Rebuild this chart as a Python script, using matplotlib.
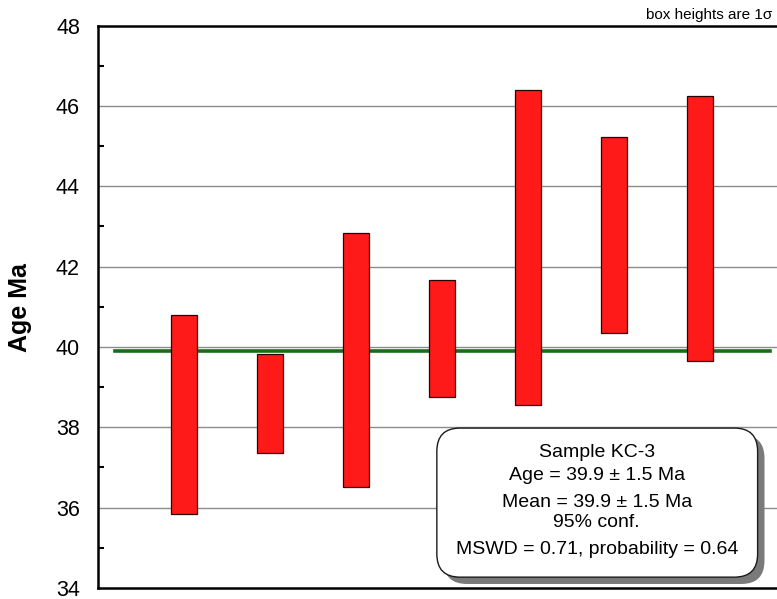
import matplotlib.pyplot as plt
from matplotlib.patches import FancyBboxPatch
from matplotlib.ticker import MultipleLocator

plt.rcParams['font.family'] = ['Liberation Sans', 'DejaVu Sans']

# --- weighted-mean data (1 sigma boxes) ---
positions = [1, 2, 3, 4, 5, 6, 7]
box_top = [40.80, 39.82, 42.83, 41.66, 46.39, 45.22, 46.24]
box_bottom = [35.84, 37.36, 36.51, 38.75, 38.55, 40.34, 39.65]
mean_age = 39.9
y_ticks = [34, 36, 38, 40, 42, 44, 46, 48]

summary_lines = [
    "Sample KC-3",
    "Age = 39.9 \u00b1 1.5 Ma",
    "Mean = 39.9 \u00b1 1.5 Ma",
    "95% conf.",
    "MSWD = 0.71, probability = 0.64",
]
summary_y = [37.38, 36.81, 36.14, 35.62, 34.95]

fig = plt.figure(figsize=(7.77, 5.99), dpi=100)
ax = fig.add_axes([98 / 777, 11 / 599, 688 / 777, 562.5 / 599])
ax.set_xlim(0, 8)
ax.set_ylim(34, 48)

# grid lines at even ages
for yv in y_ticks[1:-1]:
    ax.axhline(yv, color='#8c8c8c', lw=1.0, zorder=1)

# mean line
ax.plot([0.2, 7.81], [mean_age, mean_age], color='#1b6b1b', lw=2.6, zorder=2)

# error boxes
width = 0.30
for x, top, bot in zip(positions, box_top, box_bottom):
    ax.bar(x, top - bot, bottom=bot, width=width, color='#ff1a1a',
           edgecolor='#2a0000', linewidth=0.9, zorder=3)

# rounded summary box with a drop shadow
aspect = 86 / 40.18
bx, by, bw, bh = 3.94, 34.27, 3.73, 3.71
shadow = FancyBboxPatch((bx + 0.08, by - 0.17), bw, bh,
                        boxstyle="round,pad=0,rounding_size=0.27",
                        mutation_aspect=aspect, facecolor='#7a7a7a',
                        edgecolor='none', zorder=4)
box = FancyBboxPatch((bx, by), bw, bh,
                     boxstyle="round,pad=0,rounding_size=0.27",
                     mutation_aspect=aspect, facecolor='white',
                     edgecolor='#1a1a1a', linewidth=1.0, zorder=5)
ax.add_patch(shadow)
ax.add_patch(box)
for txt, yv in zip(summary_lines, summary_y):
    ax.text(5.80, yv, txt, ha='center', va='center', fontsize=14, zorder=6)

# axes styling
ax.set_yticks(y_ticks)
ax.yaxis.set_minor_locator(MultipleLocator(1))
ax.tick_params(axis='y', which='major', length=0, pad=13, labelsize=15.5)
ax.tick_params(axis='y', which='minor', direction='in', length=4, width=1.5)
ax.set_xticks([])
ax.spines['right'].set_visible(False)
for side in ['left', 'top', 'bottom']:
    ax.spines[side].set_linewidth(1.8)
ax.spines['top'].set_zorder(7)

fig.text(20 / 777, 1 - 308 / 599, "Age Ma", rotation=90, ha='center',
         va='center', fontsize=18, fontweight='bold')
fig.text(772 / 777, 1 - 22 / 599, "box heights are 1\u03c3", ha='right',
         va='bottom', fontsize=11)

fig.savefig("out.png", dpi=100)
